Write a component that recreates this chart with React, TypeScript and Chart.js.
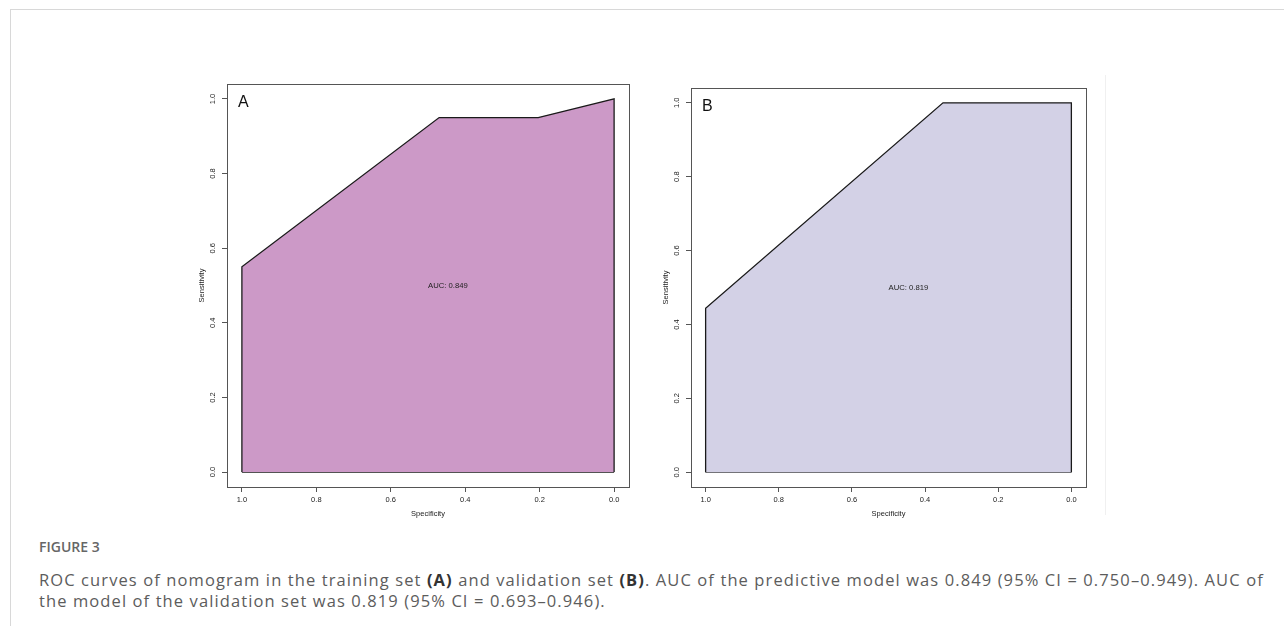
import React, { useEffect, useRef } from "react";
import { Chart, registerables } from "chart.js";

Chart.register(...registerables);

// ---- data (ROC curve vertices, ordered by specificity) ----
const specificityA = [0.0, 0.0, 0.204, 0.47, 1.0, 1.0];
const sensitivityA = [0.0, 1.0, 0.95, 0.95, 0.55, 0.0];
const specificityB = [0.0, 0.0, 0.351, 1.0, 1.0];
const sensitivityB = [0.0, 1.0, 1.0, 0.444, 0.0];
const tickValues = [0.0, 0.2, 0.4, 0.6, 0.8, 1.0];
const tickLabels = ["0.0", "0.2", "0.4", "0.6", "0.8", "1.0"];
const aucA = "AUC: 0.849";
const aucB = "AUC: 0.819";
const xTitle = "Specificity";
const yTitle = "Sensitivity";

const FONT = "'Liberation Sans', Arial, sans-serif";

type PanelProps = {
  spec: number[];
  sens: number[];
  fill: string;
  auc: string;
  letter: string;
  left: number;
  top: number;
  width: number;
  height: number;
  yAxisWidth: number;
  padTop: number;
  padRight: number;
};

function RocPanel(p: PanelProps) {
  const ref = useRef<HTMLCanvasElement | null>(null);
  useEffect(() => {
    if (!ref.current) return;
    const points = p.spec.map((s, i) => ({ x: s, y: p.sens[i] }));
    const minX = Math.min(...p.spec);
    const maxX = Math.max(...p.spec);
    const baseline = [
      { x: minX, y: 0 },
      { x: maxX, y: 0 },
    ];
    const overlay = {
      id: "rocOverlay",
      afterDraw(chart: any) {
        const ctx = chart.ctx;
        const a = chart.chartArea;
        const xs = chart.scales.x;
        const ys = chart.scales.y;
        ctx.save();
        ctx.strokeStyle = "#555";
        ctx.lineWidth = 1;
        ctx.strokeRect(Math.round(a.left) + 0.5, Math.round(a.top) + 0.5, Math.round(a.right - a.left), Math.round(a.bottom - a.top));
        ctx.fillStyle = "#222";
        ctx.font = `7.5px ${FONT}`;
        ctx.textAlign = "center";
        ctx.textBaseline = "middle";
        tickValues.forEach((v, i) => {
          ctx.fillText(tickLabels[i], xs.getPixelForValue(v), a.bottom + 13);
        });
        ctx.fillText(xTitle, (a.left + a.right) / 2, a.bottom + 27);
        tickValues.forEach((v, i) => {
          ctx.save();
          ctx.translate(a.left - 14, ys.getPixelForValue(v));
          ctx.rotate(-Math.PI / 2);
          ctx.fillText(tickLabels[i], 0, 0);
          ctx.restore();
        });
        ctx.save();
        ctx.translate(a.left - 25.5, (a.top + a.bottom) / 2);
        ctx.rotate(-Math.PI / 2);
        ctx.fillText(yTitle, 0, 0);
        ctx.restore();
        ctx.font = `7.7px ${FONT}`;
        ctx.textAlign = "left";
        ctx.fillText(p.auc, xs.getPixelForValue(0.5), ys.getPixelForValue(0.5));
        ctx.font = `16px ${FONT}`;
        ctx.fillStyle = "#111";
        ctx.fillText(p.letter, a.left + 11, a.top + 19);
        ctx.restore();
      },
    };
    const chart = new Chart(ref.current, {
      type: "line",
      data: {
        datasets: [
          {
            data: points,
            fill: "origin",
            backgroundColor: p.fill,
            borderColor: "#1a1a1a",
            borderWidth: 1.3,
            pointRadius: 0,
            tension: 0,
          },
          {
            data: baseline,
            fill: false,
            borderColor: "#1a1a1a",
            borderWidth: 1.3,
            pointRadius: 0,
          },
        ],
      },
      options: {
        animation: false,
        responsive: false,
        maintainAspectRatio: false,
        events: [],
        parsing: false,
        layout: { padding: { top: p.padTop, right: p.padRight, left: 0, bottom: 0 } },
        plugins: { legend: { display: false }, tooltip: { enabled: false } },
        scales: {
          x: {
            type: "linear",
            min: -0.04,
            max: 1.04,
            reverse: true,
            afterBuildTicks: (s: any) => {
              s.ticks = tickValues.map((v) => ({ value: v }));
            },
            afterFit: (s: any) => {
              s.height = 43;
            },
            ticks: { display: false },
            grid: { drawOnChartArea: false, drawTicks: true, tickLength: 5, color: "#555", lineWidth: 1 },
            border: { display: false },
          },
          y: {
            type: "linear",
            min: -0.04,
            max: 1.04,
            afterBuildTicks: (s: any) => {
              s.ticks = tickValues.map((v) => ({ value: v }));
            },
            afterFit: (s: any) => {
              s.width = p.yAxisWidth;
            },
            ticks: { display: false },
            grid: { drawOnChartArea: false, drawTicks: true, tickLength: 5, color: "#555", lineWidth: 1 },
            border: { display: false },
          },
        },
      },
      plugins: [overlay],
    });
    return () => chart.destroy();
  }, []);
  return (
    <canvas
      ref={ref}
      width={p.width}
      height={p.height}
      style={{ position: "absolute", left: p.left, top: p.top, width: p.width, height: p.height }}
    />
  );
}

export default function App() {
  useEffect(() => {
    document.body.style.margin = "0";
  }, []);
  return (
    <div style={{ position: "relative", width: 1284, height: 626, background: "#fff", overflow: "hidden" }}>
      <div style={{ position: "absolute", left: 10, top: 9, width: 1274, height: 1, background: "#d8d8d8" }} />
      <div style={{ position: "absolute", left: 10, top: 9, width: 1, height: 617, background: "#d8d8d8" }} />
      <div style={{ position: "absolute", left: 1105, top: 75, width: 1, height: 440, background: "#f0f0f0" }} />
      <RocPanel
        spec={specificityA}
        sens={sensitivityA}
        fill="#CC99C7"
        auc={aucA}
        letter="A"
        left={170}
        top={70}
        width={470}
        height={460}
        yAxisWidth={57}
        padTop={14}
        padRight={11}
      />
      <RocPanel
        spec={specificityB}
        sens={sensitivityB}
        fill="#D3D1E6"
        auc={aucB}
        letter="B"
        left={650}
        top={70}
        width={450}
        height={460}
        yAxisWidth={41}
        padTop={18}
        padRight={14}
      />
      <div
        style={{
          position: "absolute",
          left: 39,
          top: 538,
          fontFamily: "'Open Sans', sans-serif",
          fontSize: 14,
          fontWeight: 600,
          color: "#666",
          lineHeight: "18px",
        }}
      >
        FIGURE 3
      </div>
      <div
        style={{
          position: "absolute",
          left: 39,
          top: 569,
          width: 1245,
          whiteSpace: "nowrap",
          fontFamily: "'Open Sans', sans-serif",
          fontSize: 16.5,
          letterSpacing: "1.1px",
          color: "#5c5c5c",
          lineHeight: "21px",
        }}
      >
        ROC curves of nomogram in the training set <b style={{ color: "#333" }}>(A)</b> and validation set{" "}
        <b style={{ color: "#333" }}>(B)</b>. AUC of the predictive model was 0.849 (95% CI = 0.750–0.949). AUC of
        <br />
        the model of the validation set was 0.819 (95% CI = 0.693–0.946).
      </div>
    </div>
  );
}
